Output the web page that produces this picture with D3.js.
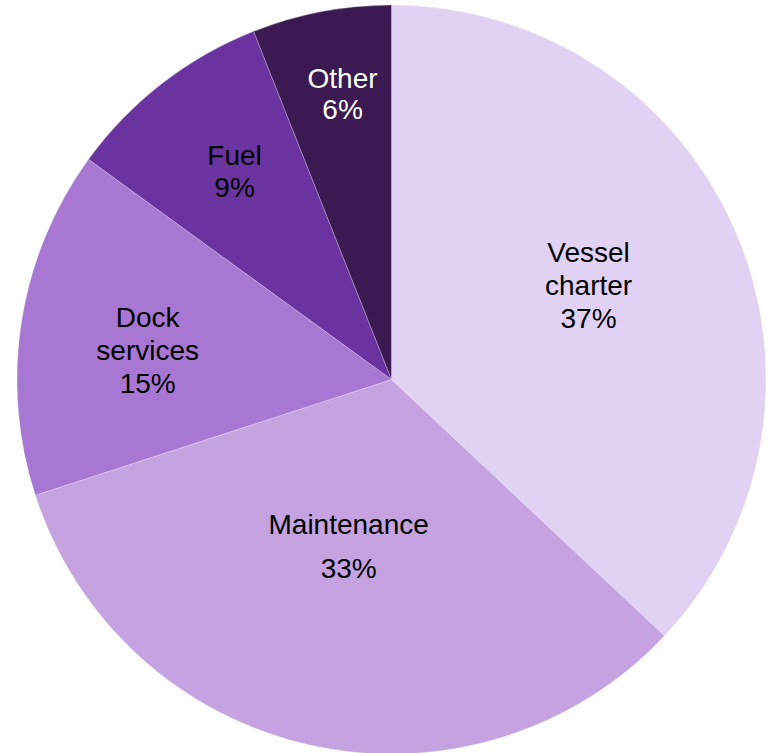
<!DOCTYPE html>
<html>
<head>
<meta charset="utf-8">
<script src="https://cdn.jsdelivr.net/npm/d3@7"></script>
<style>
  html, body { margin: 0; padding: 0; background: #fff; }
  svg { display: block; }
  text { font-family: "Liberation Sans", Arial, sans-serif; }
</style>
</head>
<body>
<svg id="chart" width="769" height="753"></svg>
<script>
// Cost breakdown shares (percent)
const categories = ["Vessel charter", "Maintenance", "Dock services", "Fuel", "Other"];
const values = [37, 33, 15, 9, 6];
// Label text lines per slice
const labelLines = [
  ["Vessel", "charter", "37%"],
  ["Maintenance", "33%"],
  ["Dock", "services", "15%"],
  ["Fuel", "9%"],
  ["Other", "6%"]
];
const colors = ["#E1D1F2", "#C5A3E0", "#A877D3", "#6B33A0", "#3A1A50"];
const textColors = ["#000", "#000", "#000", "#000", "#fff"];

// Label placement (fraction of radius, angle nudge in degrees, line gap px)
const labelRadius = [0.584, 0.46, 0.656, 0.698, 0.776];
const labelNudge = [-2.3, 1.8, -2, 0.9, 1.1];
const lineGap = [33, 44, 33, 32, 31];

const W = 769, H = 753;
const cx = 391.5, cy = 379.5, R = 374.5;

const svg = d3.select("#chart");
const g = svg.append("g").attr("transform", `translate(${cx},${cy})`);

const pie = d3.pie().sort(null).value(d => d)
  .startAngle(0).endAngle(2 * Math.PI);
const arcs = pie(values);

const arc = d3.arc().innerRadius(0).outerRadius(R);

g.selectAll("path.slice")
  .data(arcs)
  .join("path")
  .attr("class", "slice")
  .attr("d", arc)
  .attr("fill", (d, i) => colors[i])
  .attr("stroke", "#ffffff")
  .attr("stroke-opacity", 0.35)
  .attr("stroke-width", 0.75);

const fontSize = 28;
const capHalf = fontSize * 0.716 / 2;

const labels = g.selectAll("text.lbl")
  .data(arcs)
  .join("text")
  .attr("class", "lbl")
  .attr("text-anchor", "middle")
  .attr("font-size", fontSize)
  .attr("fill", (d, i) => textColors[i])
  .each(function (d, i) {
    const a = (d.startAngle + d.endAngle) / 2 + labelNudge[i] * Math.PI / 180;
    const r = labelRadius[i] * R;
    const x = r * Math.sin(a);
    const y = -r * Math.cos(a);
    const lines = labelLines[i];
    const n = lines.length;
    const t = d3.select(this);
    lines.forEach((ln, k) => {
      t.append("tspan")
        .attr("x", x)
        .attr("y", y + (k - (n - 1) / 2) * lineGap[i] + capHalf)
        .text(ln);
    });
  });
</script>
</body>
</html>
